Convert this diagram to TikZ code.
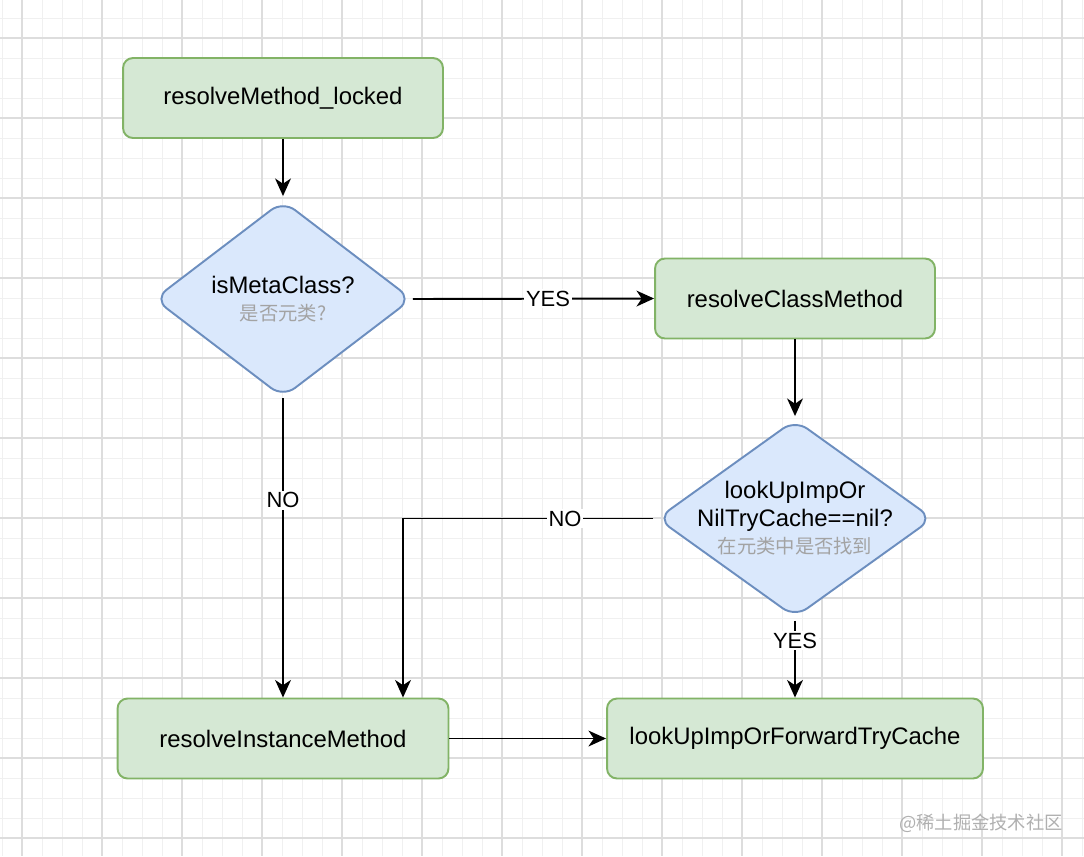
\documentclass[tikz,border=0pt]{standalone}
\usepackage{fontspec}
\setmainfont{Liberation Sans}
\newfontfamily\cjk{Noto Sans CJK SC}
\usepackage{xcolor}
\definecolor{greenfill}{HTML}{D5E8D4}
\definecolor{greenline}{HTML}{82B366}
\definecolor{bluefill}{HTML}{DAE8FC}
\definecolor{blueline}{HTML}{6C8EBF}
\definecolor{hint}{HTML}{A3A3A3}
\definecolor{mark}{HTML}{B0B0B0}
\definecolor{minorgrid}{HTML}{F0F0F0}
\definecolor{majorgrid}{HTML}{DDDDDD}
\usepackage{tikz}
\usetikzlibrary{shapes.geometric,arrows.meta}
\newcommand{\hinttext}[1]{{\cjk\color{hint}\fontsize{11}{12}\selectfont #1}}
\tikzset{
    method/.style = {
      rounded corners=0.2cm,
      draw=greenline,
      fill=greenfill,
      line width=1.1pt,
      minimum height=1.6cm,
      font=\fontsize{13.6}{16}\selectfont
    },
    check/.style = {
      diamond,
      rounded corners=0.3cm,
      draw=blueline,
      fill=bluefill,
      line width=1.1pt,
      inner sep=0pt
    },
    question/.style = {
      align=center,
      font=\fontsize{13.6}{15.6}\selectfont
    },
    answer/.style = {
      fill=white,
      inner sep=1pt,
      font=\fontsize{12.5}{14}\selectfont
    },
    flow/.style = {
      -{Stealth[length=10pt,width=9pt,inset=3pt]},
      line width=1.1pt
    },
    watermark/.style = {
      text=mark,
      font=\cjk\fontsize{10.4}{12}\selectfont
    }
}

\begin{document}
\begin{tikzpicture}[x=0.02cm, y=-0.02cm]
      \useasboundingbox (0,0) rectangle (1084,856);
      \fill[white] (0,0) rectangle (1084,856);
      % grid
      \foreach \x in {2,22,...,1082}
        \draw[minorgrid, line width=0.5pt] (\x,0) -- (\x,856);
      \foreach \y in {18,38,...,838}
        \draw[minorgrid, line width=0.5pt] (0,\y) -- (1084,\y);
      \foreach \x in {22,102,...,1062}
        \draw[majorgrid, line width=0.6pt] (\x,0) -- (\x,856);
      \foreach \y in {38,118,...,838}
        \draw[majorgrid, line width=0.6pt] (0,\y) -- (1084,\y);

      \node[method, minimum width=6.4cm]  (R) at (283, 98)    {resolveMethod\_locked};
      \node[check, minimum width=5.16cm, minimum height=3.94cm,
            label={[question]center:{isMetaClass?\\\hinttext{是否元类?}}}]
                                          (Q) at (283, 299)   {};
      \node[method, minimum width=5.6cm]  (C) at (795, 298.5) {resolveClassMethod};
      \node[check, minimum width=5.52cm, minimum height=3.96cm,
            label={[question]center:{lookUpImpOr\\NilTryCache==nil?\\\hinttext{在元类中是否找到}}}]
                                          (F) at (795, 518.5) {};
      \node[method, minimum width=6.62cm] (I) at (283, 738.5) {resolveInstanceMethod};
      \node[method, minimum width=7.52cm] (L) at (795, 738.5) {lookUpImpOrForwardTryCache};
      \coordinate (N) at (403,0 |- I.north);
      \node[watermark] (W) at (981, 823) {@稀土掘金技术社区};

      \draw[flow, shorten >=0.07cm] (R.south) -- (Q.north);
      \draw[flow] (Q.east) -- node[answer, pos=0.56] {YES} (C.west);
      \draw[flow, shorten >=0.05cm] (C.south) -- (F.north);
      \draw[flow] (Q.south) -- node[answer, pos=0.34] {NO} (I.north);
      \draw[flow, shorten <=0.06cm] (F.west) -| node[answer, pos=0.18] {NO} (N);
      \draw[flow, shorten <=0.05cm] (F.south) -- node[answer, pos=0.28] {YES} (L.north);
      \draw[flow] (I.east) -- (L.west);
\end{tikzpicture}
\end{document}
